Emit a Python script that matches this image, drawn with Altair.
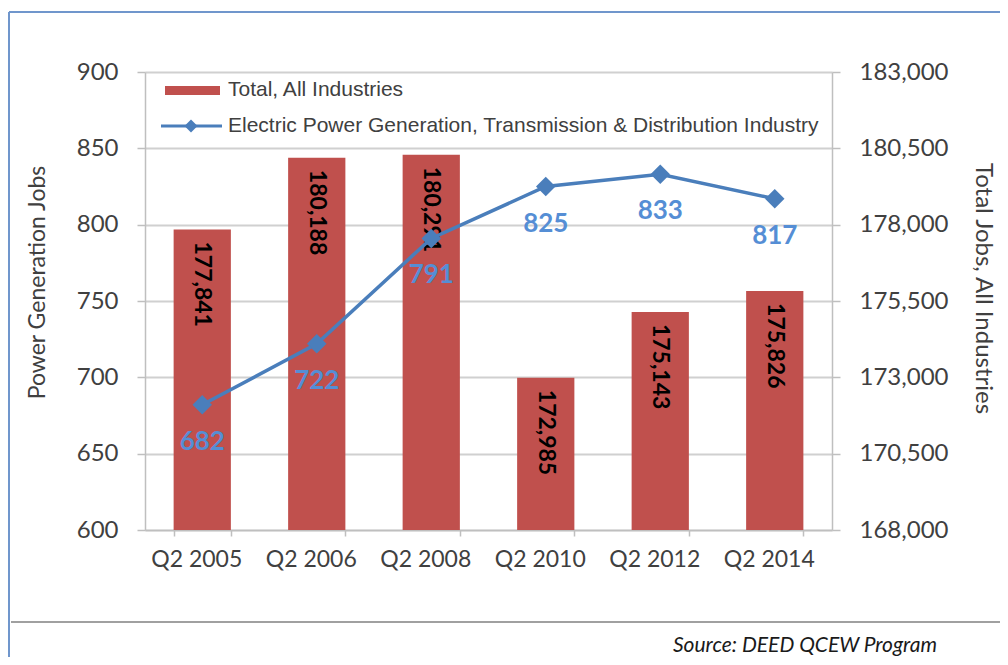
import altair as alt
import pandas as pd

periods = ["Q2 2005", "Q2 2006", "Q2 2008", "Q2 2010", "Q2 2012", "Q2 2014"]
total_jobs = [177841, 180188, 180291, 172985, 175143, 175826]
power_jobs = [682, 722, 791, 825, 833, 817]
left_ticks = [600, 650, 700, 750, 800, 850, 900]
right_ticks = [168000, 170500, 173000, 175500, 178000, 180500, 183000]
legend_labels = ["Total, All Industries",
                 "Electric Power Generation, Transmission & Distribution Industry"]
left_title = "Power Generation Jobs"
right_title = "Total Jobs, All Industries"
source_text = "Source: DEED QCEW Program"

RED = "#C0504D"
BLUE = "#4A7EBB"
LBLUE = "#558ED5"
GRID = "#d0d0d0"
AXC = "#bfbfbf"
TXT = "#404040"

df = pd.DataFrame({"period": periods, "total": total_jobs, "power": power_jobs})
one = pd.DataFrame({"k": [0]})

W, H = 687, 458

xaxis = alt.Axis(title=None, labelFont="Lato", labelFontSize=23, labelColor=TXT,
                 domainColor=AXC, domainWidth=1.5, tickColor=AXC, tickWidth=1.5,
                 tickSize=6, tickBand="extent", labelPadding=12, grid=False,
                 labelAngle=0, labelOffset=-6)
xscale = alt.Scale(paddingInner=0.5, paddingOuter=0.25)
X = alt.X("period:N", sort=periods, axis=xaxis, scale=xscale)

base = alt.Chart(df)

bars = base.mark_bar(color=RED).encode(
    x=X,
    y=alt.Y("total:Q",
            scale=alt.Scale(domain=[right_ticks[0], right_ticks[-1]], zero=False, nice=False),
            axis=alt.Axis(orient="right", values=right_ticks, format=",.0f", grid=False,
                          title=right_title, titleFont="Lato", titleFontSize=24,
                          titleFontWeight="normal", titleColor=TXT, titleAngle=90,
                          titleX=150, titleY=216, titleAlign="center", titleBaseline="middle",
                          labelFont="Lato", labelFontSize=24, labelColor=TXT,
                          labelPadding=19, tickSize=8, tickColor=AXC, tickWidth=1.5,
                          domainColor=AXC, domainWidth=1.5)),
    y2=alt.datum(right_ticks[0]),
)
bar_text = base.mark_text(angle=90, align="left", baseline="middle", dx=12,
                          font="Lato", fontSize=23, fontWeight="bold", color="black").encode(
    x=X,
    y=alt.Y("total:Q"),
    text=alt.Text("total:Q", format=","),
)
bar_layer = alt.layer(bars, bar_text)

line = base.mark_line(color=BLUE, strokeWidth=3.5).encode(
    x=X,
    y=alt.Y("power:Q",
            scale=alt.Scale(domain=[left_ticks[0], left_ticks[-1]], zero=False, nice=False),
            axis=alt.Axis(orient="left", values=left_ticks, grid=True, gridColor=GRID,
                          gridWidth=2,
                          title=left_title, titleFont="Lato", titleFontSize=23,
                          titleFontWeight="normal", titleColor=TXT, titleAngle=270,
                          titleX=-108, titleY=210, titleAlign="center", titleBaseline="middle",
                          labelFont="Lato", labelFontSize=24, labelColor=TXT,
                          labelPadding=19, tickSize=8, tickColor=AXC, tickWidth=1.5,
                          domainColor=AXC, domainWidth=1.5)),
)
pts = base.mark_point(shape="diamond", filled=True, color=BLUE, size=380, opacity=1).encode(
    x=X, y=alt.Y("power:Q"))
line_text = base.mark_text(dy=37, baseline="middle", font="Lato", fontSize=26,
                           fontWeight="bold", color=LBLUE).encode(
    x=X, y=alt.Y("power:Q"), text=alt.Text("power:Q"))
line_layer = alt.layer(line, pts, line_text)

# frame / legend / source decorations
d = alt.Chart(one)
frame_top = d.mark_rule(color="#7096cc", strokeWidth=2).encode(
    x=alt.value(-136), x2=alt.value(870), y=alt.value(-60))
frame_left = d.mark_rule(color="#7096cc", strokeWidth=2).encode(
    x=alt.value(-136), y=alt.value(-60), y2=alt.value(600))
frame_bottom = d.mark_rule(color="#a0a0a0", strokeWidth=2).encode(
    x=alt.value(-134), x2=alt.value(870), y=alt.value(550))
leg_rect = d.mark_rect(color=RED).encode(
    x=alt.value(20), x2=alt.value(75), y=alt.value(14), y2=alt.value(23))
leg_line = d.mark_rule(color=BLUE, strokeWidth=3).encode(
    x=alt.value(16), x2=alt.value(77), y=alt.value(54))
leg_pt = d.mark_point(shape="diamond", filled=True, color=BLUE, size=170, opacity=1).encode(
    x=alt.value(46), y=alt.value(54))
leg_t1 = d.mark_text(text=legend_labels[0], align="left", baseline="middle",
                     font="Liberation Sans", fontSize=21, color=TXT).encode(
    x=alt.value(83), y=alt.value(18))
leg_t2 = d.mark_text(text=legend_labels[1], align="left", baseline="middle",
                     font="Liberation Sans", fontSize=21, color=TXT).encode(
    x=alt.value(83), y=alt.value(54))
src = d.mark_text(text=source_text, align="left", baseline="alphabetic",
                  font="Lato", fontSize=21, fontStyle="italic", color="#1a1a1a").encode(
    x=alt.value(528), y=alt.value(580))
deco = alt.layer(frame_top, frame_left, frame_bottom, leg_rect, leg_line, leg_pt,
                 leg_t1, leg_t2, src)

chart = alt.layer(bar_layer, line_layer, deco).resolve_scale(y="independent").properties(
    width=W, height=H,
    autosize=alt.AutoSizeParams(type="none"),
    padding={"left": 137, "top": 64, "right": 168, "bottom": 127},
).configure_view(stroke=None)

chart.save("out.html", embed_options={"renderer": "svg", "actions": False})
